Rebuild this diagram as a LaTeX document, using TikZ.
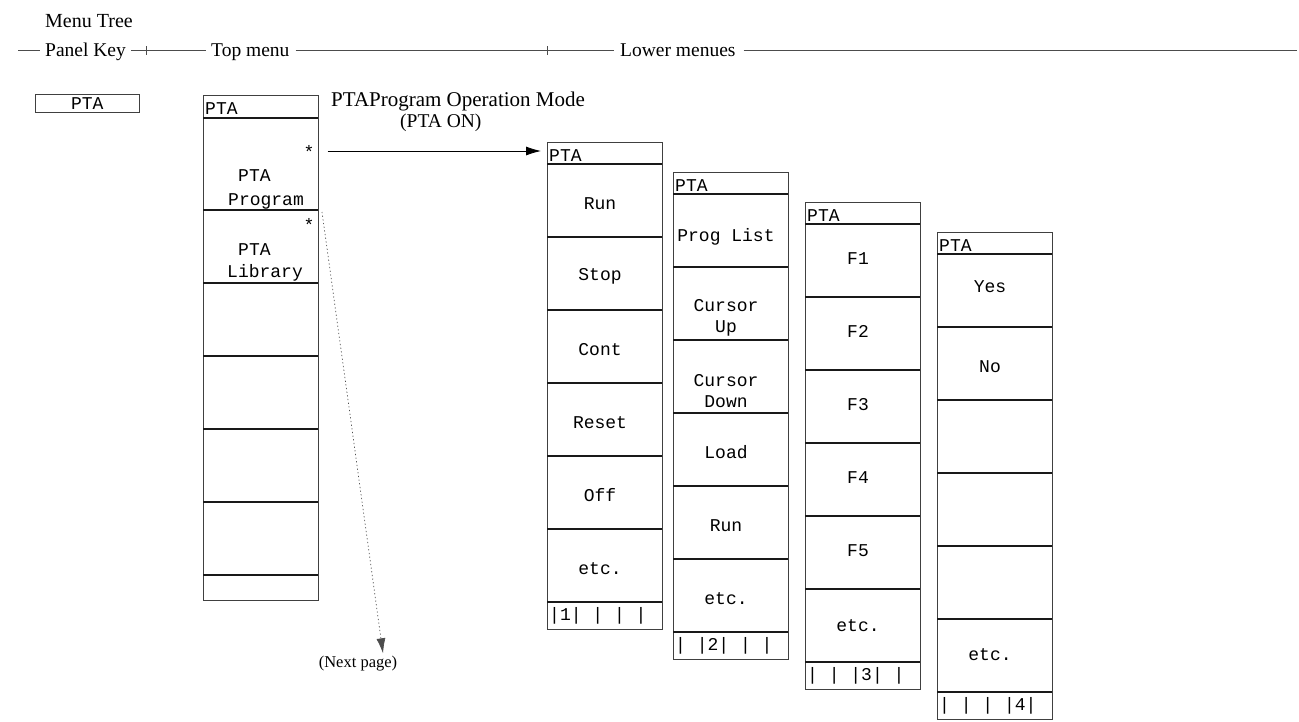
\documentclass[tikz,border=0pt]{standalone}
\usepackage{fontspec}
\setmainfont{Liberation Serif}
\newfontfamily\monof{Liberation Mono}
\usetikzlibrary{arrows.meta}
\newcommand{\menucol}[3]{% name, left, top
  \node[colbox] (#1) at (#2,#3) {};
  \node[mtxt, anchor=base west] (#1h) at (#2+2,#3+19) {PTA};
  \foreach \k in {0,...,6}{\draw[rowline] (#2,#3+22+73*\k) -- ++(115,0);}
}
\newcommand{\rowtxt}[6][0]{\node[mtxt] (#2) at (#3+53,#4+73*#5-11.5+#1) {#6};}
\newcommand{\rowtwo}[5]{\node[mtxt] (#1) at (#2+53,#3+73*#4) {#5};}
\newcommand{\striptxt}[4]{\node[mtxt, anchor=west] (#1) at (#2+2,#3+473.5) {#4};}
\begin{document}
\begin{tikzpicture}[x=1pt,y=-1pt,
  serif/.style={font=\fontsize{19.5}{22}\selectfont, inner sep=0pt},
  mtxt/.style={font=\monof\fontsize{18}{21}\selectfont, inner sep=0pt, align=center},
  colbox/.style={draw=black!75, line width=0.7pt, minimum width=115pt, minimum height=487pt, inner sep=0pt, anchor=north west},
  rowline/.style={black!90, line width=1.1pt},
  rule/.style={black!70, line width=0.6pt},
  conn/.style={black, line width=0.8pt, -{Latex[length=15pt,width=9pt]}},
  dotconn/.style={black!70, line width=0.7pt, dash pattern=on 1.2pt off 2.5pt, -{Latex[length=15pt,width=9pt]}},
]
\fill[white] (0,0) rectangle (1299,721);
\useasboundingbox (0,0) rectangle (1299,721);

% title and header rule
\node[serif, font=\fontsize{20}{22}\selectfont, anchor=base west] (title) at (45,27) {Menu Tree};
\node[serif, anchor=base west] (pk) at (45,56) {Panel Key};
\node[serif, anchor=base west] (tm) at (211,56) {Top menu};
\node[serif, anchor=base west] (lm) at (620,56) {Lower menues};
\coordinate (h0) at (18,50);
\coordinate (h1) at (1297,50);
\draw[rule] (h0) -- ([xshift=-5pt]pk.west |- h0);
\draw[rule] ([xshift=5pt]pk.east |- h0) -- ([xshift=-5pt]tm.west |- h0);
\draw[rule] ([xshift=6pt]tm.east |- h0) -- ([xshift=-6pt]lm.west |- h0);
\draw[rule] ([xshift=8pt]lm.east |- h0) -- (h1);
\draw[rule] (146,46) -- (146,55);
\draw[rule] (547,46) -- (547,55);

% panel key
\node[draw=black!75, line width=0.7pt, minimum width=104pt, minimum height=18pt, anchor=north west, mtxt] (key) at (35,94) {PTA};

% top menu
\node[colbox, minimum height=505pt] (top) at (203,95) {};
\node[mtxt, anchor=base west] (toph) at (205,114) {PTA};
\foreach \yy in {118,210,283,356,429,502,575}{\draw[rowline] (203,\yy) -- ++(115,0);}
\node[mtxt] (star1) at (309,152) {*};
\node[mtxt, anchor=base west] (tp1) at (238,181) {PTA};
\node[mtxt, anchor=base west] (tp2) at (228,205) {Program};
\node[mtxt] (star2) at (309,225) {*};
\node[mtxt, anchor=base west] (tl1) at (238,255) {PTA};
\node[mtxt, anchor=base west] (tl2) at (227,277) {Library};

% lower menus
\menucol{b1}{547}{142}
\rowtxt{b1r1}{547}{142}{1}{Run}
\rowtxt{b1r2}{547}{142}{2}{Stop}
\rowtxt{b1r3}{547}{142}{3}{Cont}
\rowtxt{b1r4}{547}{142}{4}{Reset}
\rowtxt{b1r5}{547}{142}{5}{Off}
\rowtxt{b1r6}{547}{142}{6}{etc.}
\striptxt{b1s}{547}{142}{|1| | | |}

\menucol{b2}{673}{172}
\rowtxt[3]{b2r1}{673}{172}{1}{Prog List}
\rowtwo{b2r2}{673}{172}{2}{Cursor\\Up}
\rowtwo{b2r3}{673}{172}{3}{Cursor\\Down}
\rowtxt{b2r4}{673}{172}{4}{Load}
\rowtxt{b2r5}{673}{172}{5}{Run}
\rowtxt{b2r6}{673}{172}{6}{etc.}
\striptxt{b2s}{673}{172}{| |2| | |}

\menucol{b3}{805}{202}
\rowtxt[-5]{b3r1}{805}{202}{1}{F1}
\rowtxt[-5]{b3r2}{805}{202}{2}{F2}
\rowtxt[-5]{b3r3}{805}{202}{3}{F3}
\rowtxt[-5]{b3r4}{805}{202}{4}{F4}
\rowtxt[-5]{b3r5}{805}{202}{5}{F5}
\rowtxt[-3]{b3r6}{805}{202}{6}{etc.}
\striptxt{b3s}{805}{202}{| | |3| |}

\menucol{b4}{937}{232}
\rowtxt[-7]{b4r1}{937}{232}{1}{Yes}
\rowtxt{b4r2}{937}{232}{2}{No}
\rowtxt[-4]{b4r6}{937}{232}{6}{etc.}
\striptxt{b4s}{937}{232}{| | | |4|}

% PTA ON arrow
\node[serif, font=\fontsize{21}{23}\selectfont, anchor=base west] (mode) at (331,106) {PTAProgram Operation Mode};
\node[serif, anchor=base west] (on) at (400,127) {(PTA ON)};
\coordinate (ay) at (0,151);
\draw[conn] ([xshift=9pt]top.north east |- ay) -- ([xshift=-6pt]b1.north west |- ay);

% next page
\coordinate (np0) at (322,212);
\node[serif, font=\fontsize{16.5}{18}\selectfont] (next) at (358,664) {(Next page)};
\draw[dotconn] (np0) -- ([xshift=25pt,yshift=3pt]next.north);
\end{tikzpicture}
\end{document}
